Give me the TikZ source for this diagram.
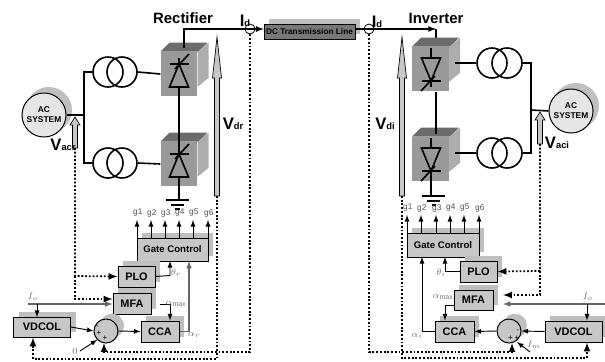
\documentclass[tikz,border=0pt]{standalone}
\usepackage{fontspec}
\setmainfont{Liberation Sans}
\usetikzlibrary{shadows}
\definecolor{boxgray}{gray}{0.78}
\definecolor{shadowgray}{gray}{0.75}
\definecolor{cubefront}{gray}{0.6}
\definecolor{cubetop}{gray}{0.42}
\definecolor{cubeside}{gray}{0.68}
\definecolor{labelgray}{gray}{0.45}
\definecolor{wiregray}{gray}{0.4}
\definecolor{dcgray}{gray}{0.47}
\newcommand{\vlabel}[2]{\textbf{\fontsize{12.5}{12.5}\selectfont #1\fontsize{7}{7}\selectfont #2}}
% hollow arrow: x, tip, head bottom, end, half head, half shaft
\newcommand{\hollowarrow}[6]{
	\draw[line width=.5pt,fill=black!22] (#1,#2) -- (#1+#5,#3) -- (#1+#6,#3) -- (#1+#6,#4)
		-- (#1-#6,#4) -- (#1-#6,#3) -- (#1-#5,#3) -- cycle;
}
\tikzset{
	wh/.style 2 args={minimum width=#1*.75pt,minimum height=#2*.75pt},
	box/.style={draw,line width=.75pt,fill=boxgray,inner sep=0pt,font=\bfseries\fontsize{8.2}{8.2}\selectfont,
		general shadow={fill=shadowgray,shadow xshift=4pt,shadow yshift=4pt}},
	sumnode/.style={circle,draw,line width=.75pt,fill=boxgray,inner sep=0pt,minimum size=18pt,
		general shadow={fill=shadowgray,shadow xshift=4.5pt,shadow yshift=4pt}},
	acsys/.style={circle,draw,line width=.75pt,fill=black!10,inner sep=0pt,minimum size=33pt,align=center,
		font=\bfseries\fontsize{6.3}{7.5}\selectfont,
		general shadow={fill=shadowgray,shadow xshift=3.5pt,shadow yshift=3.5pt,shadow scale=1.05}},
	coil/.style={circle,draw,line width=1.2pt,inner sep=0pt,minimum size=22.5pt},
	sensor/.style={circle,draw,line width=.6pt,inner sep=0pt,minimum size=7.5pt},
	cube/.style={fill=cubefront,inner sep=0pt,minimum width=27.5pt,minimum height=33pt},
	title/.style={font=\bfseries\fontsize{11.2}{11.2}\selectfont},
	gatelabel/.style={inner sep=0pt,text=black!70,font=\fontsize{6.2}{6.2}\selectfont},
	greek/.style={inner sep=0pt,text=labelgray,font=\fontsize{7.5}{7.5}\selectfont},
	signtext/.style={inner sep=0pt,font=\fontsize{6}{6}\selectfont},
	wire/.style={line width=1.2pt},
	signal/.style={line width=.7pt,->},
	graysignal/.style={line width=.9pt,draw=wiregray,->},
	feedback/.style={line width=1.3pt,dash pattern=on 1.4pt off 1.4pt,->},
	thyristor/.pic={
		\draw[line width=1.2pt] (0,-11) -- (9.5,12) -- (-9.5,12) -- cycle;
		\draw[line width=1.2pt] (-9.5,-11) -- (9.5,-11);
		\draw[line width=1.2pt] (-4,-6) -- (10,-21);
		\draw[line width=1.2pt] (0,-11) -- (0,-17);
		\coordinate (-top) at (0,-11);
		\coordinate (-bot) at (0,12);
	},
	>=latex
}
\newcommand{\cubeshell}[1]{
	\fill[cubetop] (#1.north west) -- ++(9,-9) -- ++(38,0) -- ++(-9,9) -- cycle;
	\fill[cubeside] (#1.north east) -- ++(11,-9) -- ++(0,35) -- ++(-11,9) -- cycle;
}
\begin{document}
\begin{tikzpicture}[x=.75pt,y=-.75pt]
\useasboundingbox (0,0) rectangle (605,361);

% rectifier side
\node[title] at (183,18) {Rectifier};
\node[acsys] (acr) at (44,115) {AC\\SYSTEM};
\node[cube] (cubera) at (179,74) {};
\node[cube] (cubers) at (179,164) {};
\cubeshell{cubera}
\cubeshell{cubers}
\node[coil] (tral) at (108,72) {};
\node[coil] (trar) at (122,72) {};
\node[coil] (trbl) at (108,163) {};
\node[coil] (trbr) at (122,163) {};
\coordinate (jr) at (84,115);
\draw[wire] (acr.east) -- (jr);
\draw[wire] (tral.west) -- (84,72) -- (84,163) -- (trbl.west);
\draw[wire] (trar.east) -- (cubera.west);
\draw[wire] (trbr.east) -- (cubers.west);
\pic (thyra) at (179,75) {thyristor};
\pic (thyrb) at (179,165) {thyristor};
\draw[wire] (thyra-bot) -- (thyrb-top);
\coordinate (gndr) at (179,200);
\draw[wire] (thyrb-bot) -- (gndr);
\draw[wire] (166,200) -- (189,200);
\draw[wire] (171,205) -- (184,205);
\draw[wire] (175,209) -- (180,209);

% dc line
\node[sensor] (idr) at (250,29) {};
\node[sensor] (idi) at (369,29) {};
\node[draw,line width=.5pt,fill=dcgray,inner sep=0pt,wh={91}{15},font=\bfseries\fontsize{6.2}{6.2}\selectfont,
	general shadow={fill=shadowgray,shadow xshift=4pt,shadow yshift=4pt}] (dcline) at (309.5,31.5) {DC Transmission Line};
\coordinate (rtop) at (184,29);
\coordinate (rstem) at (184,48);
\draw[wire] (rstem) -- (rtop) -- (idr.center);
\draw[line width=1pt,->] (idr.center) -- (dcline.west |- idr);
\draw[wire] (dcline.east |- idi) -- (idi.center);
\node[inner sep=0pt] at (245,21) {\vlabel{I}{d}};
\node[inner sep=0pt] at (377,22) {\vlabel{I}{d}};
\coordinate (itop) at (436,29);
\draw[line width=1pt,->] (idi.center) -- (itop);
\draw[wire] (itop) -- (436,44);

% inverter side
\node[title] at (436,18) {Inverter};
\node[acsys] (aci) at (571,111) {AC\\SYSTEM};
\node[cube] (cubia) at (430.5,69) {};
\node[cube] (cubib) at (430.5,159) {};
\cubeshell{cubia}
\cubeshell{cubib}
\node[coil] (tial) at (492,63) {};
\node[coil] (tiar) at (507,63) {};
\node[coil] (tibl) at (492,153) {};
\node[coil] (tibr) at (507,153) {};
\coordinate (ji) at (531,110);
\draw[wire] (aci.west) -- (ji);
\draw[wire] (tiar.east) -- (531,63) -- (531,153) -- (tibr.east);
\draw[wire] (tial.west) -- (455,63);
\draw[wire] (tibl.west) -- (455,153);
\pic[rotate=180] (thyia) at (431,70) {thyristor};
\pic[rotate=180] (thyib) at (431,160) {thyristor};
\draw[wire] (436,92) -- (436,134);
\draw[wire] (431,48) -- (thyia-bot);
\draw[wire] (431,138) -- (thyib-bot);
\coordinate (gndi) at (431,196);
\draw[wire] (thyib-top) -- (gndi);
\draw[wire] (422,196) -- (445,196);
\draw[wire] (427,201) -- (440,201);
\draw[wire] (432,205) -- (436,205);

% measured voltages
\hollowarrow{217}{37}{78}{196}{4.5}{2.5}
\hollowarrow{402}{37}{78}{196}{4.5}{2.5}
\hollowarrow{75}{117}{125}{148}{5}{2.5}
\hollowarrow{540}{112}{120}{144}{5}{2.5}
\node[inner sep=0pt] at (233,124) {\vlabel{V}{dr}};
\node[inner sep=0pt] at (385,124) {\vlabel{V}{di}};
\node[inner sep=0pt] at (63,145) {\vlabel{V}{acr}};
\node[inner sep=0pt] at (557,143) {\vlabel{V}{aci}};

% rectifier control
\node[box,wh={71}{23},font=\bfseries\fontsize{7.2}{7.2}\selectfont] (gater) at (172.5,249.5) {Gate Control};
\node[box,wh={37}{21}] (plor) at (136.5,276.5) {PLO};
\node[box,wh={38}{21}] (mfar) at (132,303.5) {MFA};
\node[box,wh={38}{21}] (ccar) at (160,331.5) {CCA};
\node[box,wh={57}{20}] (vdcolr) at (42,327) {VDCOL};
\node[sumnode] (sumr) at (106,331) {};
\foreach \n/\x in {1/137,2/151,3/165,4/179,5/193,6/208}{
	\coordinate (gr\n) at (\x,238);
	\draw[signal] (gr\n) -- (\x,220);
	\node[gatelabel] at (\x+.8,213) {g\n};
}
\node[signtext] at (97.5,327.5) {-};
\node[signtext] at (99,333.5) {+};
\node[signtext] at (105,338) {+};
\draw[signal] (plor.east) -- (170,275.5) -- (170,261);
\draw[graysignal] (ccar.east) -- (189,331.5) -- (189,261);
\coordinate (amaxr) at (160,304);
\draw[signal] (amaxr) -- (170,304) -- (ccar.north -| 170,304);
\draw[signal] (vdcolr.east) -- (sumr.west);
\draw[signal] (sumr.east) -- (ccar.west);
\coordinate (zeror) at (80,351);
\draw[signal] (zeror) -- (sumr.south west);
\coordinate (ior) at (28,304);
\draw[graysignal] (ior) -- (mfar.west |- ior);
\draw[signal] (37,304) -- (37,317);
\node[greek] at (33,297) {$I_o$};
\node[greek] at (176,273) {$\theta_r$};
\node[greek] at (176,304) {$\alpha_{\max}$};
\node[greek] at (194,335) {$\alpha_r$};
\node[greek] at (75,351) {$0$};
\draw[feedback] (75,148) -- (75,276) -- (plor.west);
\draw[feedback] (75,276) -- (75,299) -- (mfar.west |- 75,299);
\draw[feedback] (idr.south) -- (250,352) -- (104,352) -- (104,343);
\draw[feedback] (217,196) -- (217,359) -- (33,359) -- (vdcolr.south -| 33,359);

% inverter control
\node[box,wh={72}{24},font=\bfseries\fontsize{7.2}{7.2}\selectfont] (gatei) at (443,245) {Gate Control};
\node[box,wh={37}{21}] (ploi) at (478.5,271.5) {PLO};
\node[box,wh={39}{20}] (mfai) at (473.5,300) {MFA};
\node[box,wh={39}{21}] (ccai) at (454.5,331.5) {CCA};
\node[box,wh={57}{21}] (vdcoli) at (573.5,331.5) {VDCOL};
\node[sumnode] (sumi) at (509,331) {};
\foreach \n/\x in {1/407,2/421,3/436,4/450,5/464,6/479}{
	\coordinate (gi\n) at (\x,233);
	\draw[signal] (gi\n) -- (\x,215);
	\node[gatelabel] at (\x+.8,208) {g\n};
}
\node[signtext] at (518,331) {-};
\node[signtext] at (510.5,338) {+};
\node[signtext] at (517,338) {+};
\draw[signal] (ploi.west) -- (445,271.5) -- (445,257);
\draw[signal] (ccai.west) -- (422,331.5) -- (422,257);
\draw[signal] (mfai.west |- 454,305) -- (445,305) -- (ccai.north -| 445,305);
\draw[signal] (vdcoli.west) -- (sumi.east);
\draw[signal] (sumi.west) -- (ccai.east);
\coordinate (imi) at (530,352);
\draw[signal] (imi) -- (517,342);
\coordinate (ioi) at (605,304);
\draw[graysignal] (ioi) -- (503,304);
\draw[signal] (587,304) -- (vdcoli.north -| 587,304);
\node[greek] at (588,297) {$I_o$};
\node[greek] at (534,345) {$I_m$};
\node[greek] at (441,273) {$\theta_i$};
\node[greek] at (443,297) {$\alpha_{\max}$};
\node[greek] at (417,336) {$\alpha_i$};
\draw[feedback] (540,144) -- (540,271) -- (ploi.east);
\draw[feedback] (540,271) -- (540,295) -- (503,295);
\draw[feedback] (idi.south) -- (369,352) -- (512,352) -- (512,343);
\draw[feedback] (402,196) -- (402,358) -- (587,358) -- (vdcoli.south -| 587,358);
\end{tikzpicture}
\end{document}
